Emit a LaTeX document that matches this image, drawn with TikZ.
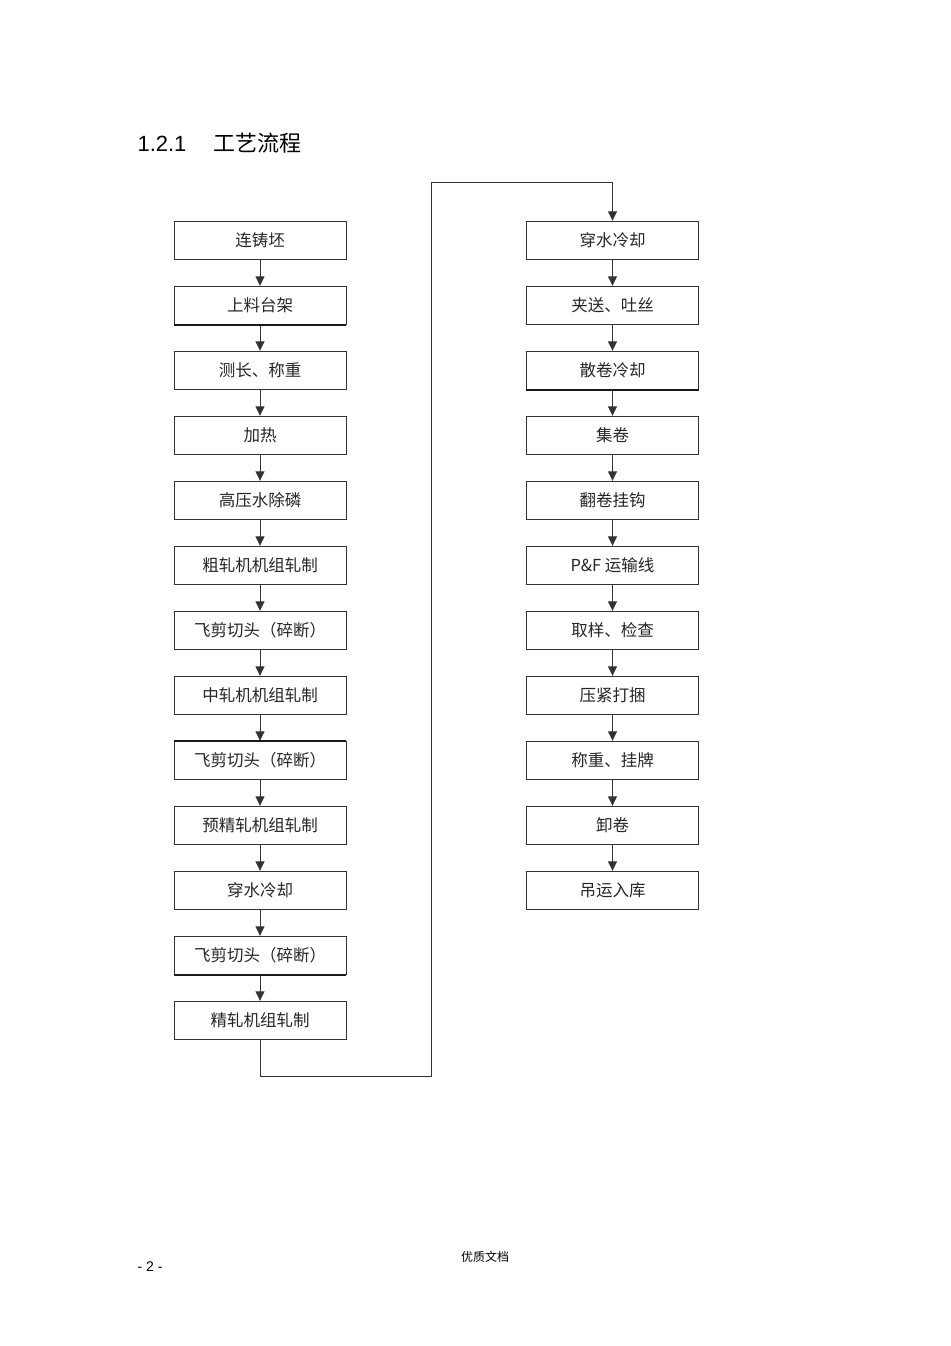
\documentclass[tikz,border=0pt]{standalone}
\usepackage{fontspec}
\setmainfont{Liberation Sans}
\newfontfamily\cjk{Noto Sans CJK SC}
\usetikzlibrary{arrows.meta}
\begin{document}
\begin{tikzpicture}[x=1pt,y=-1pt,
  box/.style={draw=black!80,line width=0.9pt,minimum width=172pt,minimum height=38.5pt,inner sep=0pt,text=black!85,font=\cjk\fontsize{16.5}{18}\selectfont},
  flow/.style={draw=black!80,line width=0.9pt,-{Triangle[length=9.5pt,width=9pt]}},
  thk/.style={line width=1.8pt,draw=black!90}]
\fill[white] (0,0) rectangle (950,1346);
\useasboundingbox (0,0) rectangle (950,1346);
\node[anchor=west,font=\fontsize{22}{24}\selectfont] (title) at (134,143) {1.2.1\hspace{27pt}{\cjk 工艺流程}};
% left column
\foreach \i/\t in {0/连铸坯,1/上料台架,2/测长、称重,3/加热,4/高压水除磷,5/粗轧机机组轧制,6/飞剪切头（碎断）,7/中轧机机组轧制,8/飞剪切头（碎断）,9/预精轧机组轧制,10/穿水冷却,11/飞剪切头（碎断）,12/精轧机组轧制}
  \node[box] (L\i) at (260,{240.5+65*\i}) {\t};
\foreach \i/\t in {0/穿水冷却,1/夹送、吐丝,2/散卷冷却,3/集卷,4/翻卷挂钩,5/{P\&F 运输线},6/取样、检查,7/压紧打捆,8/称重、挂牌,9/卸卷,10/吊运入库}
  \node[box] (R\i) at (612.5,{240.5+65*\i}) {\t};
\foreach \a [count=\b from 1] in {0,...,11}
  \draw[flow] (L\a.south) -- (L\b.north);
\foreach \a [count=\b from 1] in {0,...,9}
  \draw[flow] (R\a.south) -- (R\b.north);
% emphasised edges
\draw[thk] (L1.south west) -- (L1.south east);
\draw[thk] (L8.north west) -- (L8.north east);
\draw[thk] (L11.south west) -- (L11.south east);
\draw[thk] (R2.south west) -- (R2.south east);
% loop connector
\coordinate (c1) at (260,1076);
\coordinate (c2) at (431,1076);
\coordinate (c3) at (431,182);
\coordinate (c4) at (612.5,182);
\draw[flow] (L12.south) -- (c1) -- (c2) -- (c3) -- (c4) -- (R0.north);
% footer
\node[anchor=west,font=\fontsize{14}{16}\selectfont] (pg) at (134,1267) {- 2 -};
\node[anchor=center,font=\cjk\fontsize{12}{14}\selectfont] (ft) at (485,1257) {优质文档};
\end{tikzpicture}
\end{document}
